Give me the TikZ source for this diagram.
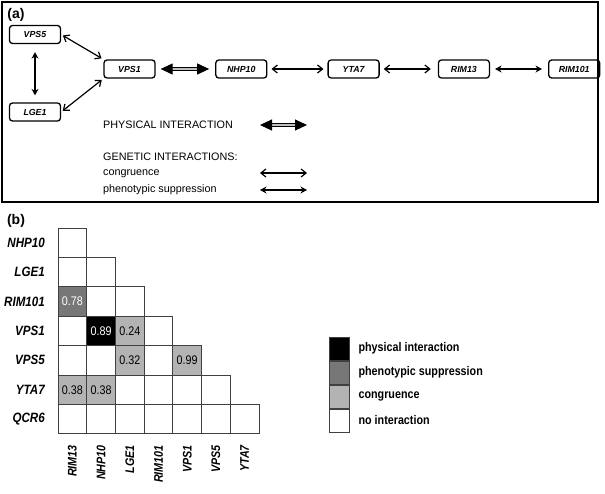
\documentclass[tikz,border=0pt]{standalone}
\usepackage{fontspec}
\setmainfont{Liberation Sans}
\newfontfamily\condsf[FakeStretch=0.86]{Liberation Sans}
\usepackage{xcolor}
\usetikzlibrary{
  positioning,
  arrows.meta
}

\definecolor{physcol}{HTML}{000000}
\definecolor{suppcol}{HTML}{777777}
\definecolor{congcol}{HTML}{B3B3B3}

% values shown in the matrix cells
\pgfkeys{/mval/.cd,
  20/.initial=0.78, 31/.initial=0.89, 32/.initial=0.24,
  42/.initial=0.32, 44/.initial=0.99, 50/.initial=0.38, 51/.initial=0.38}

\begin{document}
\begin{tikzpicture}[
  x=1pt, y=-1pt,
  gene/.style={
    rectangle,
    rounded corners=3pt,
    draw=black,
    line width=1.3pt,
    minimum width=51pt,
    minimum height=18pt,
    inner sep=0pt,
    font=\fontsize{8.8}{10}\selectfont\bfseries\itshape
  },
  physarrow/.style={
    {Triangle[length=12pt,width=11pt]}-{Triangle[length=12pt,width=11pt]},
    draw=black,
    line width=1pt,
    double=gray!50,
    double distance=1.3pt,
    shorten <=5pt, shorten >=6pt
  },
  congarrow/.style={
    {Straight Barb[length=5pt,width=8pt]}-{Straight Barb[length=5pt,width=8pt]},
    line width=1.2pt,
    shorten <=4pt, shorten >=4pt
  },
  supparrow/.style={
    {Stealth[length=6.5pt,width=7pt]}-{Stealth[length=6.5pt,width=7pt]},
    line width=1.8pt,
    shorten <=5pt, shorten >=6pt
  },
  legtext/.style={anchor=west, inner sep=0pt, font=\fontsize{10.8}{12}\selectfont},
  cell/.style={
    rectangle,
    draw=black!75,
    line width=0.8pt,
    minimum width=28.7pt,
    minimum height=29.4pt,
    inner sep=0pt,
    font=\condsf\fontsize{12.5}{14}\selectfont
  },
  m20/.style={fill=suppcol, text=white},
  m31/.style={fill=physcol, text=white},
  m32/.style={fill=congcol},
  m42/.style={fill=congcol},
  m44/.style={fill=congcol},
  m50/.style={fill=congcol},
  m51/.style={fill=congcol},
  rowlab/.style={anchor=east, inner sep=0pt, font=\condsf\fontsize{13.5}{15}\selectfont\bfseries\itshape},
  collab/.style={anchor=east, rotate=90, inner sep=0pt, font=\condsf\fontsize{12.5}{14}\selectfont\bfseries\itshape},
  keybox/.style={rectangle, draw=black!75, line width=0.8pt, minimum width=20pt, minimum height=23.2pt, inner sep=0pt},
  keytext/.style={anchor=west, inner sep=0pt, font=\condsf\fontsize{12.5}{14}\selectfont\bfseries},
  panel/.style={inner sep=0pt, font=\fontsize{14}{16}\selectfont\bfseries}
]
\useasboundingbox (0,0) rectangle (605,493);

% Panel (a): interaction network
\draw[line width=1.4pt] (2,2) rectangle (598,202);
\node[panel] (pa) at (16,15) {(a)};

\node[gene] (vps5) at (35,34.5) {VPS5};
\node[gene] (lge1) at (35,112) {LGE1};
\node[gene] (vps1) at (129.5,69) {VPS1};
\node[gene, right=59.5pt of vps1] (nhp10) {NHP10};
\node[gene, right=60pt of nhp10] (yta7) {YTA7};
\node[gene, right=58pt of yta7] (rim13) {RIM13};
\node[gene, right=58pt of rim13] (rim101) {RIM101};

\draw[congarrow, shorten <=2pt, shorten >=2pt] (vps5.east) -- (vps1.north west);
\draw[congarrow, shorten <=2pt, shorten >=2pt] (lge1.east) -- (vps1.south west);
\draw[supparrow, shorten <=8pt, shorten >=7pt] (vps5) -- (lge1);
\draw[physarrow] (vps1) -- (nhp10);
\draw[congarrow] (nhp10) -- (yta7);
\draw[congarrow, shorten >=7pt] (yta7) -- (rim13);
\draw[supparrow] (rim13) -- (rim101);

% Legend (a)
\node[legtext] (lphys) at (103,125) {PHYSICAL INTERACTION};
\node[legtext] (lgen) at (103,157) {GENETIC INTERACTIONS:};
\node[legtext] (lcong) at (103,173.5) {congruence};
\node[legtext] (lsupp) at (103,190) {phenotypic suppression};
\coordinate (phys-l) at (260,125);
\coordinate (phys-r) at (307,125);
\coordinate (cong-l) at (260,173);
\coordinate (cong-r) at (307,173);
\coordinate (supp-l) at (260,190);
\coordinate (supp-r) at (307,190);
\draw[physarrow, shorten <=0pt, shorten >=0pt] (phys-l) -- (phys-r);
\draw[congarrow, shorten <=0pt, shorten >=0pt] (cong-l) -- (cong-r);
\draw[supparrow, line width=1.6pt, shorten <=0pt, shorten >=0pt] (supp-l) -- (supp-r);

% Panel (b): interaction matrix
\node[panel] (pb) at (16,221) {(b)};

\foreach \r in {0,...,6}
  \foreach \c in {0,...,\r}
    \node[cell, m\r\c/.try] (m\r\c) at ({72.4+28.7*\c},{242.7+29.4*\r}) {\pgfkeysvalueof{/mval/\r\c}};

\foreach \name [count=\r from 0] in {NHP10,LGE1,RIM101,VPS1,VPS5,YTA7,QCR6}
  \node[rowlab] (row\r) at (45,{242.7+29.4*\r}) {\name};

\foreach \name [count=\c from 0] in {RIM13,NHP10,LGE1,RIM101,VPS1,VPS5,YTA7}
  \node[collab] (col\c) at ({72.4+28.7*\c},445) {\name};

% Legend (b)
\node[keybox, fill=physcol] (key1) at (339,348.5) {};
\node[keybox, fill=suppcol, below=0pt of key1] (key2) {};
\node[keybox, fill=congcol, below=0pt of key2] (key3) {};
\node[keybox, fill=white, below=0pt of key3] (key4) {};
\node[keytext, right=9pt of key1] (ktxt1) {physical interaction};
\node[keytext, right=9pt of key2] (ktxt2) {phenotypic suppression};
\node[keytext, right=9pt of key3] (ktxt3) {congruence};
\node[keytext, right=9pt of key4] (ktxt4) {no interaction};

\end{tikzpicture}
\end{document}
